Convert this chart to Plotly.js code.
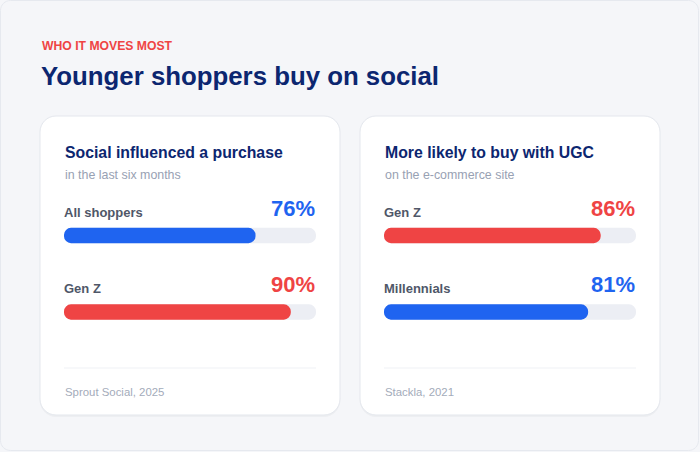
<!DOCTYPE html>
<html><head><meta charset="utf-8">
<script src="https://cdn.plot.ly/plotly-3.0.1.min.js"></script>
<style>html,body{margin:0;padding:0;background:#f5f6f9;} #chart{width:700px;height:452px;}</style>
</head><body><div id="chart"></div>
<script>
// ---- data ----
const eyebrow = "WHO IT MOVES MOST";
const headline = "Younger shoppers buy on social";

const card1Title = "Social influenced a purchase";
const card1Sub = "in the last six months";
const card1Labels = ["All shoppers", "Gen Z"];
const card1Values = [76, 90];
const card1Source = "Sprout Social, 2025";

const card2Title = "More likely to buy with UGC";
const card2Sub = "on the e-commerce site";
const card2Labels = ["Gen Z", "Millennials"];
const card2Values = [86, 81];
const card2Source = "Stackla, 2021";

const scaleMax = 100;

// ---- styles ----
const W = 700, H = 452;
const FONT = "Liberation Sans, Arial, Helvetica, sans-serif";
const BLUE = "#1f64f0", RED = "#ef4444", NAVY = "#0c2670", TRACK = "#eceef4";
const card1Colors = [BLUE, RED];
const card2Colors = [RED, BLUE];

const px = v => v / W;
const py = v => 1 - v / H;

function rr(x0, y0, x1, y1, r) {
  const k = 0.5523 * r;
  const X = v => px(v).toFixed(5), Y = v => py(v).toFixed(5);
  return `M${X(x0 + r)},${Y(y0)} L${X(x1 - r)},${Y(y0)} ` +
    `C${X(x1 - r + k)},${Y(y0)} ${X(x1)},${Y(y0 + r - k)} ${X(x1)},${Y(y0 + r)} ` +
    `L${X(x1)},${Y(y1 - r)} C${X(x1)},${Y(y1 - r + k)} ${X(x1 - r + k)},${Y(y1)} ${X(x1 - r)},${Y(y1)} ` +
    `L${X(x0 + r)},${Y(y1)} C${X(x0 + r - k)},${Y(y1)} ${X(x0)},${Y(y1 - r + k)} ${X(x0)},${Y(y1 - r)} ` +
    `L${X(x0)},${Y(y0 + r)} C${X(x0)},${Y(y0 + r - k)} ${X(x0 + r - k)},${Y(y0)} ${X(x0 + r)},${Y(y0)} Z`;
}

const cards = [
  {title: card1Title, sub: card1Sub, labels: card1Labels, values: card1Values, source: card1Source, colors: card1Colors, left: 40, xa: "x", ya: "y"},
  {title: card2Title, sub: card2Sub, labels: card2Labels, values: card2Values, source: card2Source, colors: card2Colors, left: 360, xa: "x2", ya: "y2"}
];

const cardTop = 116, cardBottom = 415, cardW = 300, pad = 24;
const row0 = 235.5, rowGap = 76.5;

const traces = [];
const shapes = [];
const annotations = [];
const layout = {
  width: W, height: H,
  margin: {l: 0, r: 0, t: 0, b: 0},
  paper_bgcolor: "#f5f6f9", plot_bgcolor: "rgba(0,0,0,0)",
  showlegend: false, barmode: "overlay",
  font: {family: FONT}
};

// page border
shapes.push({type: "path", xref: "paper", yref: "paper", path: rr(0.5, 0.5, W - 1.5, H - 1.5, 10),
  line: {color: "#e6e9ef", width: 1}, fillcolor: "rgba(0,0,0,0)", layer: "below"});

annotations.push({xref: "paper", yref: "paper", x: px(40), y: py(46), xanchor: "left", yanchor: "middle",
  text: eyebrow, showarrow: false, font: {family: FONT, size: 12.2, color: RED, weight: 700}});
annotations.push({xref: "paper", yref: "paper", x: px(39), y: py(76), xanchor: "left", yanchor: "middle",
  text: "<b>" + headline + "</b>", showarrow: false, font: {family: FONT, size: 25.8, color: NAVY}});

cards.forEach((c, i) => {
  const L = c.left, R = L + cardW;
  // shadow + card
  shapes.push({type: "path", xref: "paper", yref: "paper", path: rr(L, cardTop + 2, R, cardBottom + 2, 16),
    line: {width: 0}, fillcolor: "rgba(15,23,42,0.03)", layer: "below"});
  shapes.push({type: "path", xref: "paper", yref: "paper", path: rr(L, cardTop, R, cardBottom, 16),
    line: {color: "#e4e7ed", width: 1}, fillcolor: "#ffffff", layer: "below"});
  // divider
  shapes.push({type: "line", xref: "paper", yref: "paper", x0: px(L + pad), x1: px(R - pad), y0: py(368), y1: py(368),
    line: {color: "#eff1f5", width: 1}, layer: "below"});

  const x0 = L + pad, x1 = R - pad;
  const xKey = i === 0 ? "xaxis" : "xaxis2", yKey = i === 0 ? "yaxis" : "yaxis2";
  const top = row0 - rowGap / 2, bot = row0 + rowGap * 1.5;
  layout[xKey] = {domain: [px(x0), px(x1)], range: [0, scaleMax], visible: false, fixedrange: true, anchor: c.ya};
  layout[yKey] = {domain: [py(bot), py(top)], type: "category", categoryarray: c.labels, categoryorder: "array",
    range: [1.5, -0.5], visible: false, fixedrange: true, anchor: c.xa};

  traces.push({type: "bar", orientation: "h", xaxis: c.xa, yaxis: c.ya, y: c.labels,
    x: c.labels.map(() => scaleMax), base: c.labels.map(() => 0), width: 0.2,
    marker: {color: TRACK, cornerradius: "50%", line: {width: 0}}, hoverinfo: "skip"});
  traces.push({type: "bar", orientation: "h", xaxis: c.xa, yaxis: c.ya, y: c.labels,
    x: c.values, base: c.values.map(() => 0), width: 0.2,
    marker: {color: c.colors, cornerradius: "50%", line: {width: 0}}, hoverinfo: "skip"});

  annotations.push({xref: "paper", yref: "paper", x: px(L + pad - 1), y: py(152), xanchor: "left", yanchor: "middle",
    text: "<b>" + c.title + "</b>", showarrow: false, font: {family: FONT, size: 15.8, color: NAVY}});
  annotations.push({xref: "paper", yref: "paper", x: px(L + pad - 1), y: py(175), xanchor: "left", yanchor: "middle",
    text: c.sub, showarrow: false, font: {family: FONT, size: 12.4, color: "#98a1b3"}});
  annotations.push({xref: "paper", yref: "paper", x: px(L + pad - 1), y: py(392), xanchor: "left", yanchor: "middle",
    text: c.source, showarrow: false, font: {family: FONT, size: 11.4, color: "#a3abba"}});

  c.labels.forEach((lab, j) => {
    annotations.push({xref: c.xa, yref: c.ya, x: 0, y: lab, xanchor: "left", yanchor: "middle", yshift: 23.5, xshift: -2,
      text: "<b>" + lab + "</b>", showarrow: false, font: {family: FONT, size: 13, color: "#4f5768"}});
    annotations.push({xref: c.xa, yref: c.ya, x: scaleMax, y: lab, xanchor: "right", yanchor: "middle", yshift: 27.5, xshift: 1,
      text: "<b>" + c.values[j] + "%</b>", showarrow: false, font: {family: FONT, size: 22, color: c.colors[j]}});
  });
});

layout.shapes = shapes;
layout.annotations = annotations;

Plotly.newPlot("chart", traces, layout, {staticPlot: true, displayModeBar: false});
</script>
</body></html>
